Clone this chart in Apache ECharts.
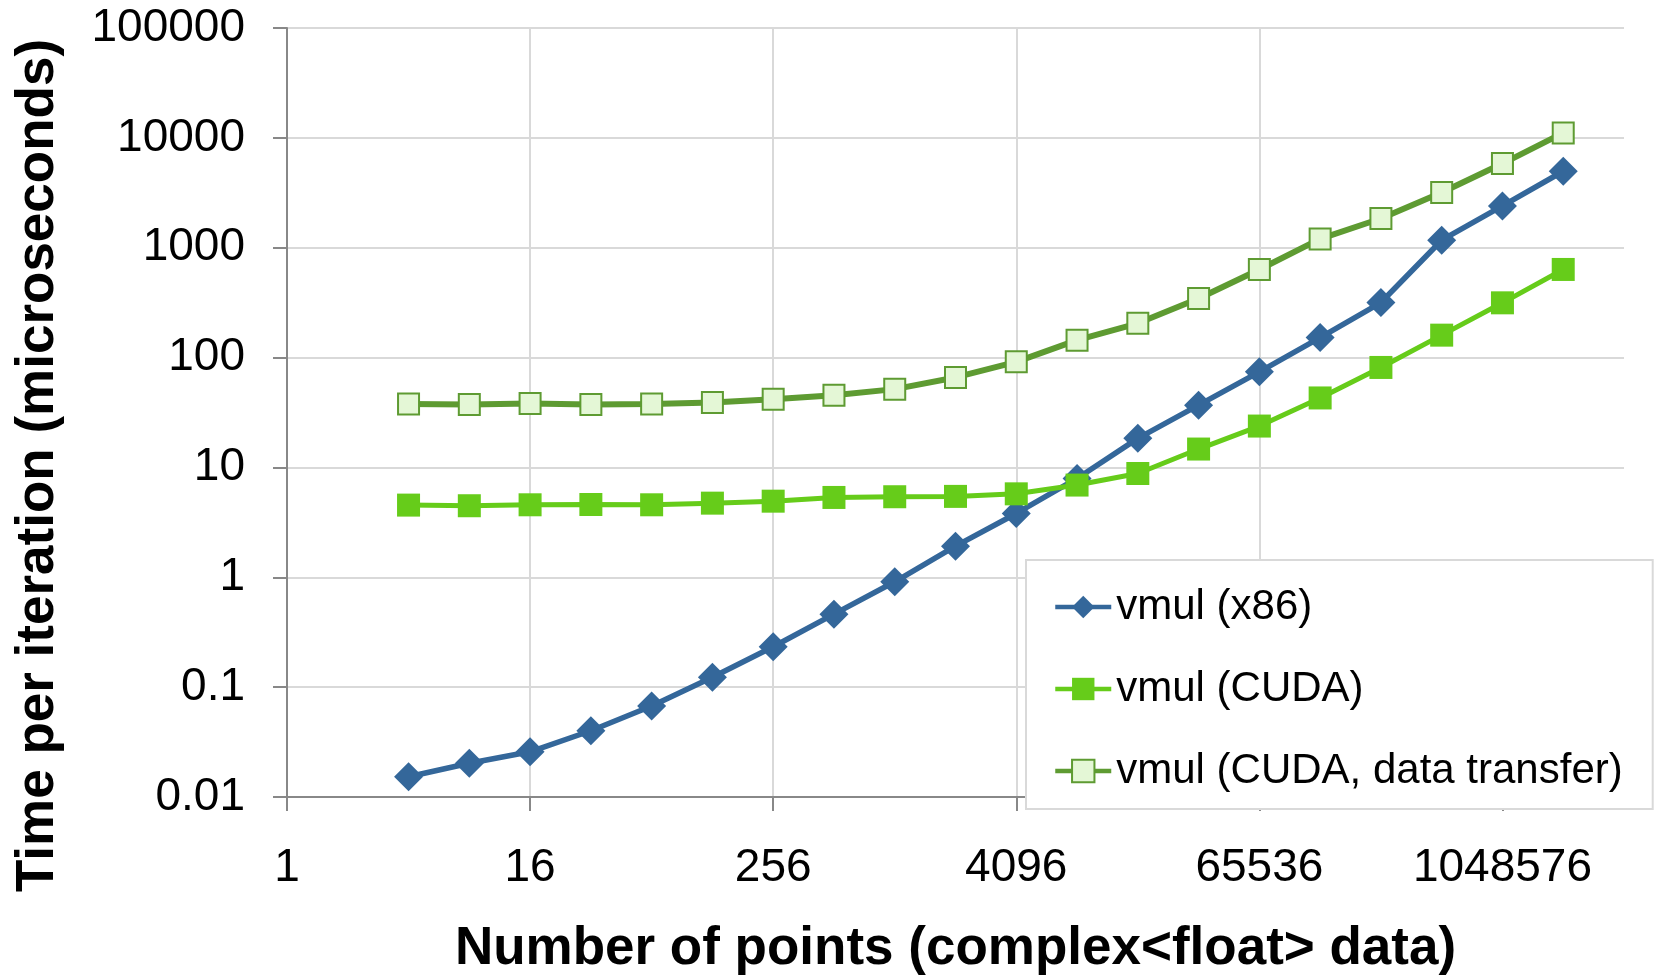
<!DOCTYPE html>
<html>
<head>
<meta charset="utf-8">
<script src="https://cdn.jsdelivr.net/npm/echarts@6/dist/echarts.min.js"></script>
<style>
html,body{margin:0;padding:0;background:#fff;}
#chart{width:1655px;height:976px;}
</style>
</head>
<body>
<div id="chart"></div>
<script>
// Number of points (x values)
const points = [4, 8, 16, 32, 64, 128, 256, 512, 1024, 2048, 4096, 8192, 16384, 32768, 65536, 131072, 262144, 524288, 1048576, 2097152];
// Time per iteration (microseconds)
const vmulX86 = [0.0153, 0.0203, 0.0258, 0.0401, 0.0673, 0.123, 0.233, 0.462, 0.910, 1.92, 3.81, 7.94, 18.4, 36.9, 74.1, 152, 317, 1170, 2399, 4966];
const vmulCuda = [4.54, 4.48, 4.57, 4.60, 4.57, 4.73, 4.93, 5.33, 5.41, 5.45, 5.75, 6.91, 8.81, 14.7, 23.8, 42.9, 81.3, 160, 315, 634];
const vmulCudaTransfer = [37.7, 37.4, 38.2, 37.4, 37.7, 39.0, 41.8, 45.5, 51.6, 65.9, 91.4, 144, 205, 345, 634, 1202, 1845, 3179, 5834, 11090];
const seriesNames = ['vmul (x86)', 'vmul (CUDA)', 'vmul (CUDA, data transfer)'];
const xTickValues = [1, 16, 256, 4096, 65536, 1048576];
const xAxisTitle = 'Number of points (complex<float> data)';
const yAxisTitle = 'Time per iteration (microseconds)';

const FONT = '"Liberation Sans", Arial, sans-serif';
const pair = (ys) => points.map((x, i) => [x, ys[i]]);

const chart = echarts.init(document.getElementById('chart'), null, {renderer: 'canvas'});
chart.setOption({
  animation: false,
  backgroundColor: '#ffffff',
  grid: {left: 287, right: 31, top: 28, bottom: 179, containLabel: false, outerBoundsMode: 'none'},
  xAxis: {
    type: 'log',
    logBase: 16,
    min: 1,
    max: 4194304,
    name: xAxisTitle,
    nameLocation: 'middle',
    nameGap: 126,
    nameTextStyle: {fontFamily: FONT, fontSize: 53, fontWeight: 'bold', color: '#000'},
    axisLine: {show: true, onZero: false, lineStyle: {color: '#888888', width: 2}},
    axisTick: {show: true, inside: false, length: 14, lineStyle: {color: '#888888', width: 2},
               customValues: xTickValues},
    axisLabel: {fontFamily: FONT, fontSize: 46, color: '#000', margin: 48,
                customValues: xTickValues,
                formatter: (v) => String(v)},
    splitLine: {show: true, showMaxLine: false, lineStyle: {color: '#D9D9D9', width: 2}},
    minorTick: {show: false}
  },
  yAxis: {
    type: 'log',
    logBase: 10,
    min: 0.01,
    max: 100000,
    name: yAxisTitle,
    nameLocation: 'middle',
    nameRotate: 90,
    nameGap: 222,
    nameTextStyle: {fontFamily: FONT, fontSize: 53, fontWeight: 'bold', color: '#000', padding: [0, 106, 0, 0]},
    axisLine: {show: true, onZero: false, lineStyle: {color: '#888888', width: 2}},
    axisTick: {show: true, inside: false, length: 14, lineStyle: {color: '#888888', width: 2}},
    axisLabel: {fontFamily: FONT, fontSize: 46, color: '#000', margin: 42,
                formatter: (v) => String(v)},
    splitLine: {show: true, lineStyle: {color: '#D9D9D9', width: 2}}
  },
  legend: {
    orient: 'vertical',
    left: 1026,
    top: 560,
    padding: [26, 30, 17, 27],
    itemGap: 40,
    itemWidth: 56,
    itemHeight: 28,
    backgroundColor: '#ffffff',
    borderColor: '#D9D9D9',
    borderWidth: 2,
    borderRadius: 0,
    lineStyle: {width: 4.5},
    textStyle: {fontFamily: FONT, fontSize: 42, color: '#000'},
    data: seriesNames,
    z: 10
  },
  series: [
    {
      name: seriesNames[0], type: 'line', data: pair(vmulX86),
      symbol: 'diamond', symbolSize: 29,
      lineStyle: {color: '#34679A', width: 5.5},
      itemStyle: {color: '#34679A'},
      z: 3
    },
    {
      name: seriesNames[1], type: 'line', data: pair(vmulCuda),
      symbol: 'rect', symbolSize: 23,
      lineStyle: {color: '#66CC1A', width: 5},
      itemStyle: {color: '#66CC1A'},
      z: 4
    },
    {
      name: seriesNames[2], type: 'line', data: pair(vmulCudaTransfer),
      symbol: 'rect', symbolSize: 21,
      lineStyle: {color: '#5E9B32', width: 6},
      itemStyle: {color: '#E4F7D6', borderColor: '#5E9B32', borderWidth: 2},
      z: 5
    }
  ]
});
</script>
</body>
</html>
